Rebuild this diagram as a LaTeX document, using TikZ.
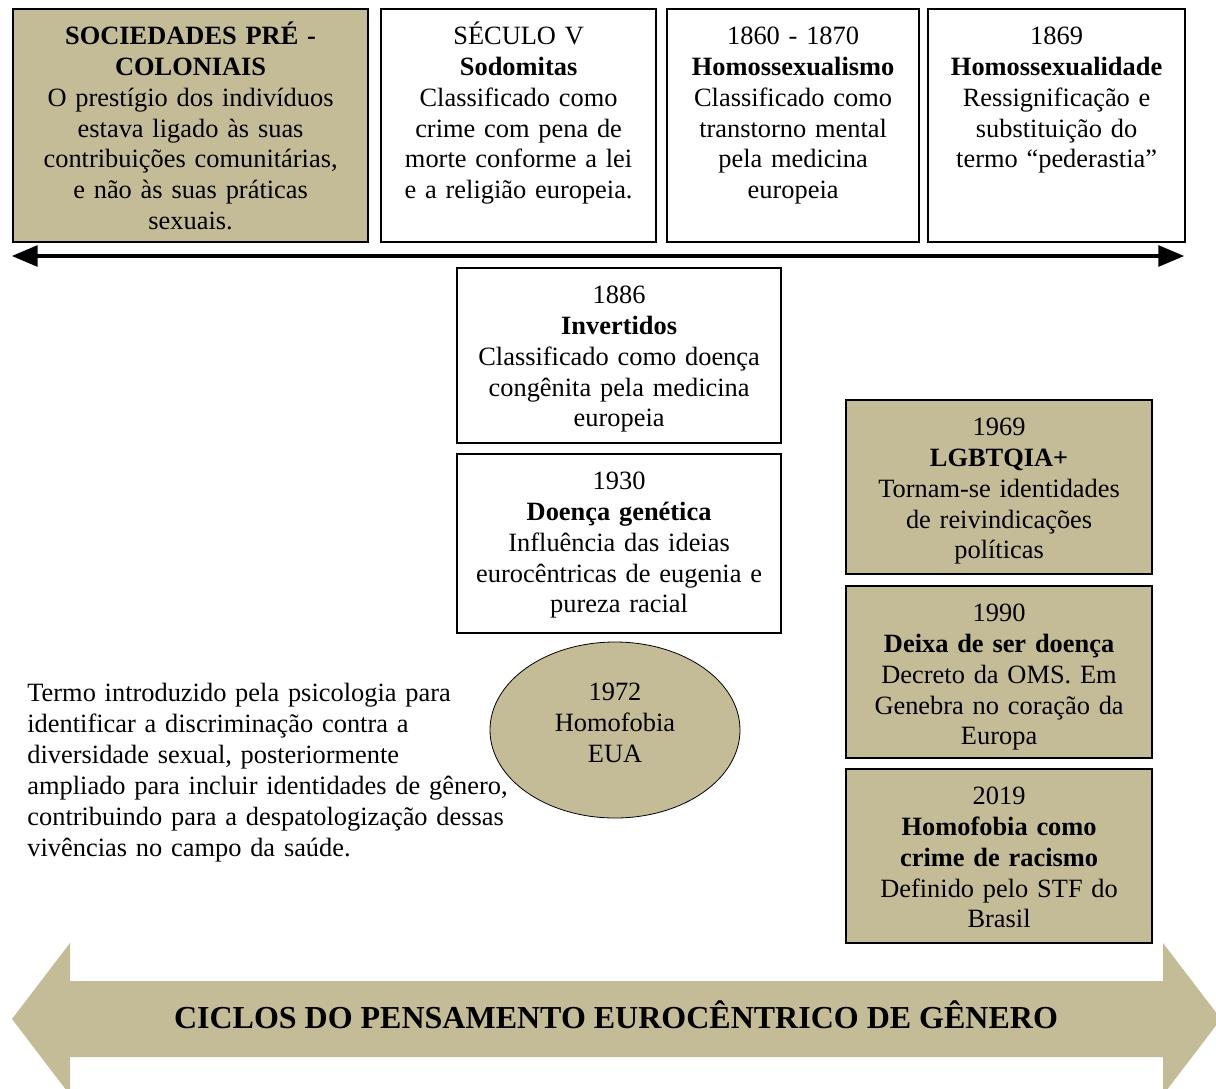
\documentclass[tikz,border=0pt]{standalone}
\usepackage{fontspec}
\setmainfont{Liberation Serif}
\usepackage{tikz}
\usetikzlibrary{arrows,shapes.geometric}
\definecolor{ctan}{RGB}{196,188,150}

\begin{document}
\begin{tikzpicture}[x=0.5pt,y=-0.5pt,>=triangle 45,
  box node/.style={draw,line width=1.1pt,inner sep=0pt,anchor=north west,align=center,
    font=\fontsize{13.2}{15.4}\selectfont,text height=17.75pt},
  tan node/.style={box node,fill=ctan},
  white node/.style={box node,fill=white},
  oval node/.style={ellipse,draw,fill=ctan,inner sep=0pt,align=center,text width=70pt,
    text height=12pt,text depth=42pt,font=\fontsize{13.2}{15.6}\selectfont}]
  \useasboundingbox (0,0) rectangle (1216,1088);

  % top row
  \node[tan node,text width=177.5pt,text depth=98.75pt] (1) at (12,8)
    {\textbf{SOCIEDADES PRÉ -}\\\textbf{COLONIAIS}\\O prestígio dos indivíduos\\estava ligado às suas\\contribuições comunitárias,\\e não às suas práticas\\sexuais.};
  \node[white node,text width=137.5pt,text depth=98.75pt] (2) at (380,8)
    {SÉCULO V\\\textbf{Sodomitas}\\Classificado como\\crime com pena de\\morte conforme a lei\\e a religião europeia.};
  \node[white node,text width=126pt,text depth=98.75pt] (3) at (666,8)
    {1860 - 1870\\\textbf{Homossexualismo}\\Classificado como\\transtorno mental\\pela medicina\\europeia};
  \node[white node,text width=128.5pt,text depth=98.75pt] (4) at (927,8)
    {1869\\\textbf{Homossexualidade}\\Ressignificação e\\substituição do\\termo “pederastia”};

  \coordinate (tlw) at (12,256);
  \coordinate (tle) at (1184,256);
  \draw[<->,line width=2pt] (tlw) -- (tle);

  % middle column
  \node[white node,text width=162pt,text depth=69.5pt] (5) at (456,267)
    {1886\\\textbf{Invertidos}\\Classificado como doença\\congênita pela medicina\\europeia};
  \node[white node,text width=162pt,text depth=71.75pt] (6) at (456,453)
    {1930\\\textbf{Doença genética}\\Influência das ideias\\eurocêntricas de eugenia e\\pureza racial};
  \node[oval node,minimum width=125pt,minimum height=88pt] (7) at (615,730)
    {1972\\Homofobia\\EUA};
  \node[anchor=base west,inner sep=0pt,text width=245pt,align=left,
    font=\fontsize{13.2}{15.5}\selectfont] (8) at (27,701)
    {Termo introduzido pela psicologia para\\identificar a discriminação contra a\\diversidade sexual, posteriormente\\ampliado para incluir identidades de gênero,\\contribuindo para a despatologização dessas\\vivências no campo da saúde.};

  % right column
  \node[tan node,text width=153pt,text depth=69.25pt] (9) at (845,399)
    {1969\\\textbf{LGBTQIA+}\\Tornam-se identidades\\de reivindicações\\políticas};
  \node[tan node,text width=153pt,text depth=68.25pt] (10) at (845,585)
    {1990\\\textbf{Deixa de ser doença}\\Decreto da OMS. Em\\Genebra no coração da\\Europa};
  \node[tan node,text width=153pt,text depth=69.25pt] (11) at (845,768)
    {2019\\\textbf{Homofobia como}\\\textbf{crime de racismo}\\Definido pelo STF do\\Brasil};

  % big arrow
  \fill[ctan] (12,1019) -- (70,943) -- (70,981) -- (1163,981) -- (1163,943)
    -- (1221,1019) -- (1163,1095) -- (1163,1057) -- (70,1057) -- (70,1095) -- cycle;
  \node[anchor=base,inner sep=0pt,font=\fontsize{16}{19}\selectfont\bfseries] (12) at (616,1028)
    {CICLOS DO PENSAMENTO EUROCÊNTRICO DE GÊNERO};
\end{tikzpicture}
\end{document}
